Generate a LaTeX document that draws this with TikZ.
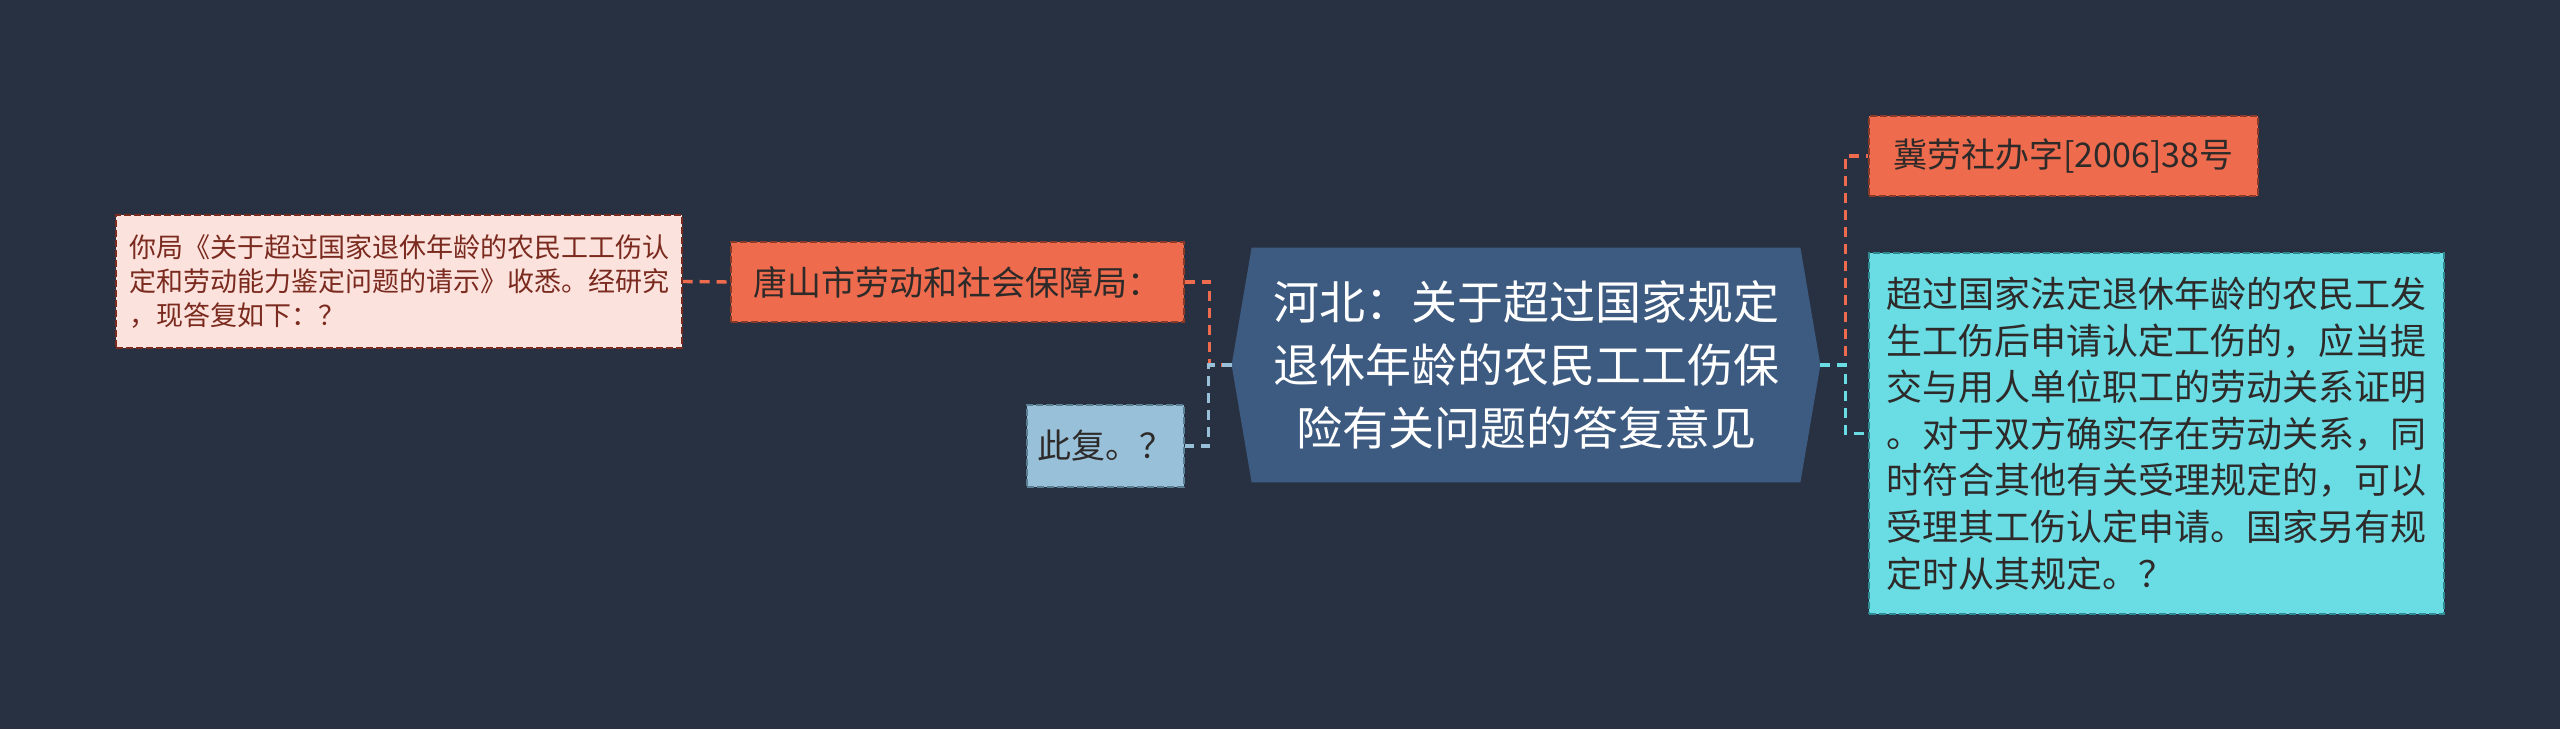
\documentclass[tikz,border=0pt]{standalone}
\usepackage{fontspec}
\setmainfont{Noto Sans CJK SC}
\usetikzlibrary{calc}
\definecolor{bgc}{HTML}{283142}
\definecolor{pinkf}{HTML}{FCE2DD}
\definecolor{pinkd}{HTML}{7A2A1E}
\definecolor{orgf}{HTML}{EE6C4D}
\definecolor{orgd}{HTML}{8C3A28}
\definecolor{lbf}{HTML}{98C1D9}
\definecolor{lbd}{HTML}{5A7E94}
\definecolor{hexf}{HTML}{3D5A80}
\definecolor{cyf}{HTML}{6ADCE3}
\definecolor{cyd}{HTML}{2E8A90}
\definecolor{darkt}{HTML}{2E2A2A}
\pgfdeclarelayer{back}
\pgfsetlayers{back,main}
\begin{document}
\begin{tikzpicture}[x=0.5pt,y=-0.5pt,
  boxst/.style={rectangle, line width=0.7pt, dash pattern=on 3.5pt off 1.5pt, inner sep=0pt, align=left, anchor=center},
  pinkbox/.style={boxst, fill=pinkf, draw=pinkd, text=pinkd, font=\fontsize{13.5}{17}\selectfont},
  orgbox/.style={boxst, fill=orgf, draw=orgd, text=darkt, font=\fontsize{17}{22}\selectfont},
  lbbox/.style={boxst, fill=lbf, draw=lbd, text=darkt, font=\fontsize{17}{22}\selectfont},
  cybox/.style={boxst, fill=cyf, draw=cyd, text=darkt, font=\fontsize{18}{23.3}\selectfont},
  hexnode/.style={rectangle, inner sep=0pt, align=center, text=white, font=\fontsize{23}{31.4}\selectfont},
  conn/.style={line width=1.7pt, dash pattern=on 5pt off 3.5pt},
]
\begin{pgfonlayer}{back}
\fill[bgc] (0,0) rectangle (2560,729);
\end{pgfonlayer}

\node[hexnode, minimum width=294pt, minimum height=117pt] (hex) at (1526,365)
  {河北：关于超过国家规定\\退休年龄的农民工工伤保\\险有关问题的答复意见};
\begin{pgfonlayer}{back}
\fill[hexf] (hex.west) -- ($(hex.north west)+(20,0)$) -- ($(hex.north east)+(-20,0)$)
  -- (hex.east) -- ($(hex.south east)+(-20,0)$) -- ($(hex.south west)+(20,0)$) -- cycle;
\end{pgfonlayer}

\node[pinkbox, minimum width=283pt, minimum height=66.5pt] (pink) at (399,281.5)
  {你局《关于超过国家退休年龄的农民工工伤认\\定和劳动能力鉴定问题的请示》收悉。经研究\\，现答复如下：？};
\node[orgbox, minimum width=226.5pt, minimum height=40pt] (org) at (957.5,282)
  {唐山市劳动和社会保障局：};
\node[lbbox, minimum width=78.5pt, minimum height=41pt] (lb) at (1105.5,446)
  {此复。？};
\node[orgbox, minimum width=194.5pt, minimum height=40pt] (ji) at (2063.5,156)
  {冀劳社办字[2006]38号};
\node[cybox, minimum width=287.5pt, minimum height=180.5pt] (cy) at (2156.5,433.5)
  {超过国家法定退休年龄的农民工发\\生工伤后申请认定工伤的，应当提\\交与用人单位职工的劳动关系证明\\。对于双方确实存在劳动关系，同\\时符合其他有关受理规定的，可以\\受理其工伤认定申请。国家另有规\\定时从其规定。？};

\begin{pgfonlayer}{back}
\draw[conn, orgf] (pink.east) -- (org.west);
\draw[conn, orgf] (org.east) -- ++(25,0) |- (hex.west);
\draw[conn, lbf] (hex.west) -- ++(-23,0) |- (lb.east);
\draw[conn, orgf] (hex.east) -- ++(25,0) |- (ji.west);
\draw[conn, cyf] (hex.east) -- ++(25,0) |- (cy.west);
\end{pgfonlayer}
\end{tikzpicture}
\end{document}
